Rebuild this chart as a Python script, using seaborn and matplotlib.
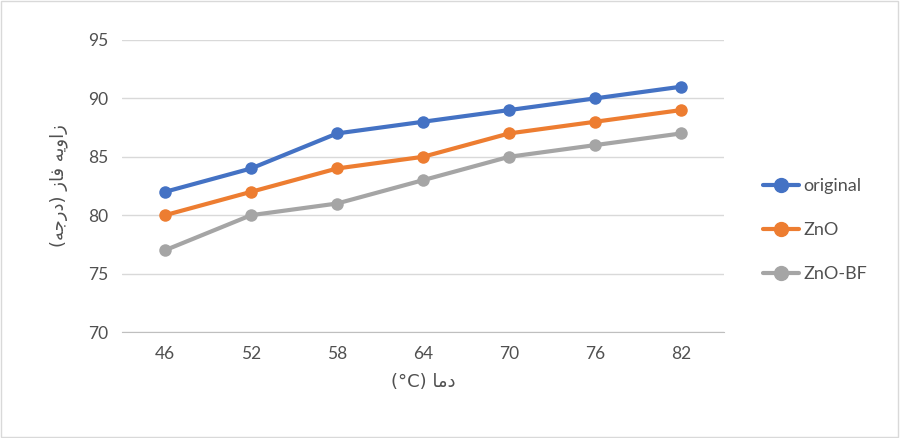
import matplotlib
matplotlib.use('Agg')
import matplotlib.pyplot as plt
import seaborn as sns
import pandas as pd

# داده‌ها
temps = ['46', '52', '58', '64', '70', '76', '82']
original = [82, 84, 87, 88, 89, 90, 91]
zno = [80, 82, 84, 85, 87, 88, 89]
zno_bf = [77, 80, 81, 83, 85, 86, 87]
series_names = ['original', 'ZnO', 'ZnO-BF']
colors = ['#4472C4', '#ED7D31', '#A5A5A5']

# برچسب‌ها به صورت شکل‌یافته (matplotlib متن راست‌به‌چپ را شکل نمی‌دهد)
xlabel = '(°C) ' + '\uFE8E\uFEE3\uFEA9'  # دما (°C)
ylabel = ('(' + '\uFEEA\uFE9F\uFEAD\uFEA9' + ') '
          + '\uFEAF\uFE8E\uFED3' + ' '
          + '\uFEEA\uFBFE\uFEED\uFE8D\uFEAF')  # زاویه فاز (درجه)

df = pd.DataFrame({
    'temp': temps * 3,
    'value': original + zno + zno_bf,
    'series': [s for s in series_names for _ in temps],
})

sns.set_style('white')
plt.rcParams['font.family'] = ['Lato', 'DejaVu Sans']
text_color = '#505050'

fig = plt.figure(figsize=(9, 4.38), dpi=100)
ax = fig.add_axes([0.1356, 0.242, 0.669, 0.6667])

sns.lineplot(data=df, x='temp', y='value', hue='series', palette=colors,
             marker='o', markersize=9, markeredgewidth=0, linewidth=3,
             sort=False, ax=ax, legend=False)

ax.set_xlim(-0.5, len(temps) - 0.5)
ax.set_ylim(70, 95)
ax.set_yticks(range(70, 96, 5))
ax.yaxis.grid(True, color='#D9D9D9', linewidth=1)
ax.set_axisbelow(True)
for side in ['top', 'right', 'left']:
    ax.spines[side].set_visible(False)
ax.spines['bottom'].set_color('#BFBFBF')
ax.tick_params(axis='both', length=0, labelsize=12.5, colors=text_color, pad=10)

ax.set_xlabel(xlabel, fontsize=13, color=text_color, labelpad=8,
              family=['DejaVu Sans'])
ax.set_ylabel(ylabel, fontsize=13, color=text_color, labelpad=14,
              family=['DejaVu Sans'])

handles = [plt.Line2D([], [], color=c, marker='o', markersize=10, linewidth=3)
           for c in colors]
fig.legend(handles, series_names, loc='center left', bbox_to_anchor=(0.83, 0.475),
           frameon=False, fontsize=13, labelcolor=text_color, handlelength=2.0,
           labelspacing=1.55, handletextpad=0.2)

# کادر دور شکل
fig.patches.append(plt.Rectangle((0.001, 0.002), 0.997, 0.996, transform=fig.transFigure,
                                 fill=False, edgecolor='#D9D9D9', linewidth=1))

fig.savefig('out.png', dpi=100)
